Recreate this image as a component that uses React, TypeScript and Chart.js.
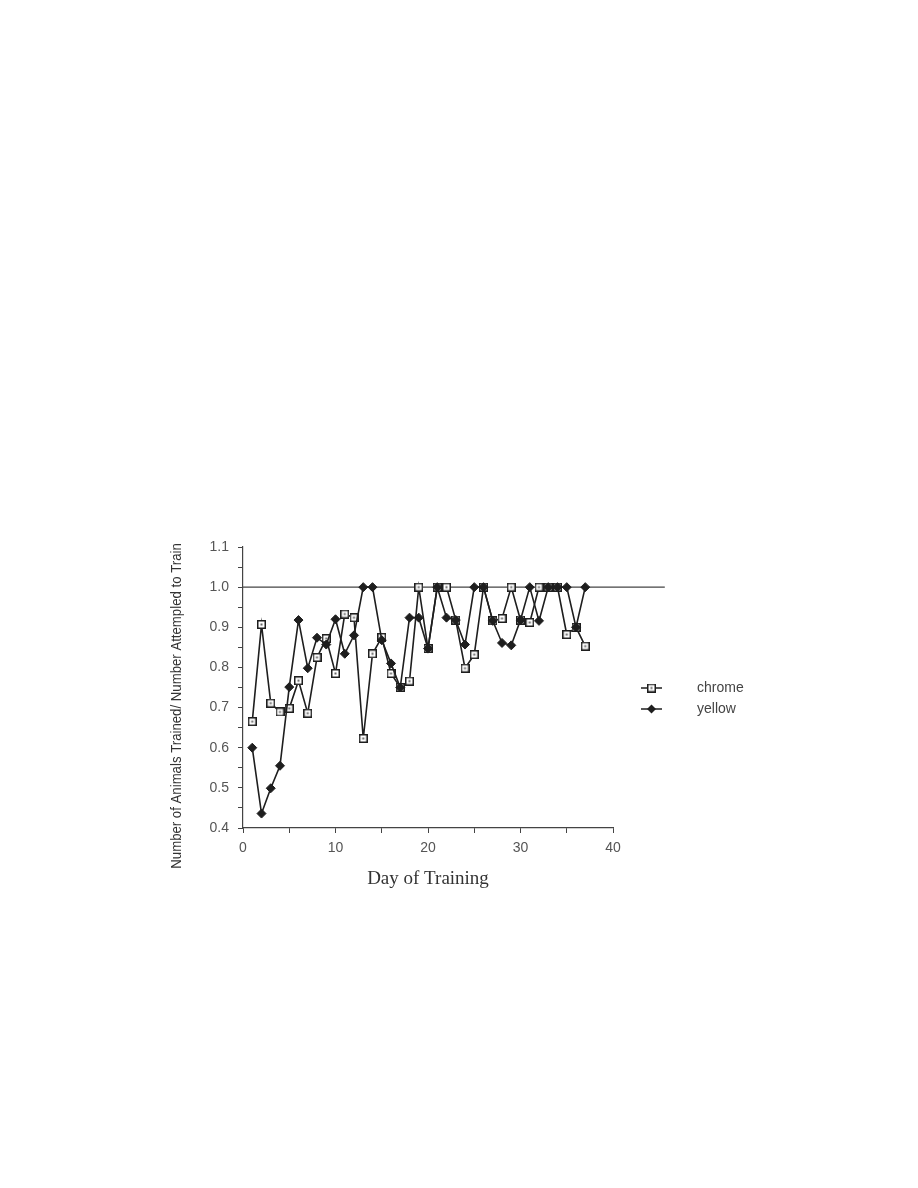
import React, { useEffect, useRef } from 'react';
import { Chart, registerables } from 'chart.js';

Chart.register(...registerables);

// ---- data ----
const days = [1, 2, 3, 4, 5, 6, 7, 8, 9, 10, 11, 12, 13, 14, 15, 16, 17, 18, 19, 20, 21, 22, 23, 24, 25, 26, 27, 28, 29, 30, 31, 32, 33, 34, 35, 36, 37];
const chromeValues = [0.665, 0.907, 0.711, 0.689, 0.698, 0.767, 0.686, 0.825, 0.872, 0.785, 0.933, 0.924, 0.623, 0.834, 0.875, 0.785, 0.75, 0.766, 1.0, 0.847, 1.0, 1.0, 0.918, 0.798, 0.832, 1.0, 0.916, 0.922, 1.0, 0.918, 0.912, 1.0, 1.0, 1.0, 0.882, 0.9, 0.853];
const yellowValues = [0.6, 0.436, 0.499, 0.555, 0.751, 0.918, 0.798, 0.874, 0.857, 0.92, 0.834, 0.88, 1.0, 1.0, 0.868, 0.81, 0.75, 0.924, 0.924, 0.847, 1.0, 0.924, 0.918, 0.857, 1.0, 1.0, 0.916, 0.861, 0.855, 0.918, 1.0, 0.916, 1.0, 1.0, 1.0, 0.9, 1.0];
const seriesNames = ['chrome', 'yellow'];
const refLineX = [0, 45.6];
const refLineY = [1.0, 1.0];
const xMin = 0;
const xMax = 40;
const yMin = 0.4;
const yMax = 1.1;
const xTitle = 'Day of Training';
const yTitle = 'Number of Animals Trained/ Number Attempled to Train';

const INK = '#1e1e1e';

function makeSquareMarker(): HTMLCanvasElement {
  const c = document.createElement('canvas');
  c.width = 9;
  c.height = 9;
  const ctx = c.getContext('2d')!;
  ctx.fillStyle = '#fff';
  ctx.fillRect(0, 0, 9, 9);
  ctx.strokeStyle = INK;
  ctx.lineWidth = 1.5;
  ctx.strokeRect(0.75, 0.75, 7.5, 7.5);
  ctx.fillStyle = '#666';
  ctx.fillRect(3.5, 3.5, 2, 2);
  return c;
}

function drawDiamond(ctx: CanvasRenderingContext2D, x: number, y: number, r: number) {
  ctx.beginPath();
  ctx.moveTo(x, y - r);
  ctx.lineTo(x + r, y);
  ctx.lineTo(x, y + r);
  ctx.lineTo(x - r, y);
  ctx.closePath();
  ctx.fill();
}

export default function App() {
  const canvasRef = useRef<HTMLCanvasElement | null>(null);

  useEffect(() => {
    const canvas = canvasRef.current;
    if (!canvas) return;
    const squareMarker = makeSquareMarker();

    const legendPlugin = {
      id: 'customLegend',
      afterDraw(chart: any) {
        const ctx = chart.ctx as CanvasRenderingContext2D;
        ctx.save();
        const rows = [688, 709];
        seriesNames.forEach((name, i) => {
          const y = rows[i];
          ctx.strokeStyle = INK;
          ctx.lineWidth = 1.5;
          ctx.beginPath();
          ctx.moveTo(641, y);
          ctx.lineTo(662, y);
          ctx.stroke();
          if (i === 0) {
            ctx.drawImage(squareMarker, 651.5 - 4.5, y - 4.5);
          } else {
            ctx.fillStyle = INK;
            drawDiamond(ctx, 651.5, y, 4.5);
          }
          ctx.fillStyle = '#444';
          ctx.font = '14px "Liberation Sans", Arial, sans-serif';
          ctx.textBaseline = 'middle';
          ctx.textAlign = 'left';
          ctx.fillText(name, 697, y);
        });
        // y axis title
        ctx.translate(177, 706);
        ctx.rotate(-Math.PI / 2);
        ctx.scale(0.88, 1);
        ctx.fillStyle = '#333';
        ctx.font = '15px "Liberation Sans", Arial, sans-serif';
        ctx.textAlign = 'center';
        ctx.textBaseline = 'middle';
        ctx.fillText(yTitle, 0, 0);
        ctx.restore();
      },
    };

    const chart = new Chart(canvas, {
      type: 'line',
      data: {
        datasets: [
          {
            label: 'ref',
            data: refLineX.map((x, i) => ({ x, y: refLineY[i] })),
            borderColor: '#444',
            borderWidth: 1.1,
            pointRadius: 0,
            clip: false as any,
            order: 3,
          },
          {
            label: seriesNames[0],
            data: days.map((d, i) => ({ x: d, y: chromeValues[i] })),
            borderColor: INK,
            borderWidth: 1.6,
            pointStyle: squareMarker as any,
            pointRadius: 4.5,
            order: 2,
          },
          {
            label: seriesNames[1],
            data: days.map((d, i) => ({ x: d, y: yellowValues[i] })),
            borderColor: INK,
            backgroundColor: INK,
            borderWidth: 1.6,
            pointStyle: 'rectRot',
            pointRadius: 4.5,
            pointBackgroundColor: INK,
            pointBorderColor: INK,
            pointBorderWidth: 1,
            order: 1,
          },
        ],
      },
      options: {
        responsive: false,
        animation: false,
        layout: { padding: { left: 167, top: 547, right: 305, bottom: 298 } },
        plugins: {
          legend: { display: false },
          tooltip: { enabled: false },
        },
        scales: {
          x: {
            type: 'linear',
            min: xMin,
            max: xMax,
            ticks: {
              stepSize: 5,
              autoSkip: false,
              maxRotation: 0,
              padding: 7,
              color: '#555',
              font: { family: '"Liberation Sans", Arial, sans-serif', size: 14 },
              callback: (v: any) => (Math.round(v) % 10 === 0 ? String(Math.round(v)) : ''),
            },
            grid: {
              display: true,
              drawOnChartArea: false,
              drawTicks: true,
              tickLength: 5,
              color: '#444',
              tickColor: '#444',
            },
            border: { display: true, color: '#444', width: 1.2 },
            title: {
              display: true,
              text: xTitle,
              color: '#333',
              font: { family: '"Liberation Serif", "Times New Roman", serif', size: 19 },
              padding: { top: 0, bottom: 0 },
            },
            afterFit: (s: any) => {
              s.height = 62;
            },
          },
          y: {
            type: 'linear',
            min: yMin,
            max: yMax,
            ticks: {
              stepSize: 0.05,
              autoSkip: false,
              padding: 9,
              color: '#555',
              font: { family: '"Liberation Sans", Arial, sans-serif', size: 14 },
              callback: (v: any) => (Math.round(v * 100) % 10 === 0 ? Number(v).toFixed(1) : ''),
            },
            grid: {
              display: true,
              drawOnChartArea: false,
              drawTicks: true,
              tickLength: 5,
              color: '#444',
              tickColor: '#444',
            },
            border: { display: true, color: '#444', width: 1.2 },
            title: { display: false },
            afterFit: (s: any) => {
              s.width = 76;
            },
          },
        },
      },
      plugins: [legendPlugin],
    });

    return () => chart.destroy();
  }, []);

  return (
    <div style={{ position: 'absolute', left: 0, top: 0, width: 918, height: 1188, background: '#fff' }}>
      <canvas ref={canvasRef} width={918} height={1188} style={{ display: 'block' }} />
    </div>
  );
}
